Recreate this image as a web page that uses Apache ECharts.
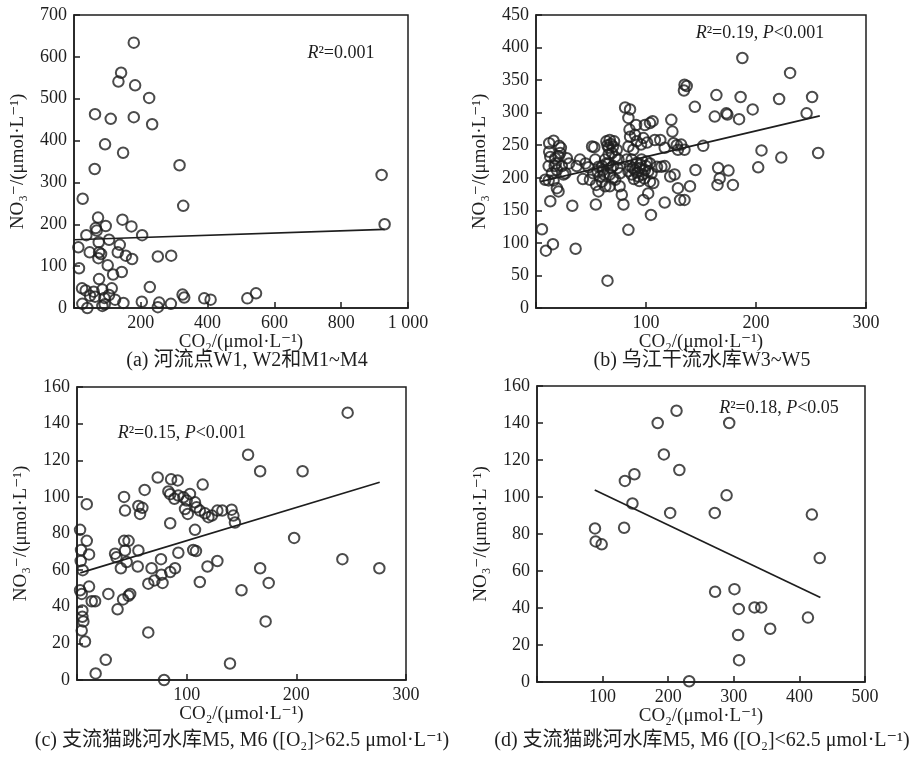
<!DOCTYPE html>
<html><head><meta charset="utf-8">
<script src="https://cdn.jsdelivr.net/npm/echarts@6/dist/echarts.min.js"></script>
<style>html,body{margin:0;padding:0;background:#fff}#c{width:922px;height:760px}</style>
</head><body><div id="c"></div>
<script>
// ---- Panel (a): river sites W1, W2, M1~M4 ----
const aCO2 = [179,141,133,183,225,63,110,179,234,93,147,62,316,327,26,72,65,68,95,145,172,204,37,105,74,13,137,47,75,81,73,131,155,174,251,291,15,101,117,143,75,24,35,59,85,113,63,48,105,91,123,148,203,227,25,40,85,92,251,255,290,325,330,390,409,519,545,921,930];
const aNO3 = [634,562,541,532,502,463,452,456,439,391,371,332,341,244,261,216,191,185,196,211,195,174,174,163,157,145,151,133,133,129,119,133,125,117,123,125,95,102,80,86,69,47,42,39,44,47,27,29,31,24,20,12,15,50,10,0,5,9,2,13,10,32,25,23,20,23,35,318,200];
const aFitX = [0,930];
const aFitY = [163,188];

// ---- Panel (b): Wujiang mainstream reservoirs W3~W5 ----
const bCO2 = [5.4,9,15.4,36,13,33,65,84,12,16,21,22.6,13,17.5,20.5,11.5,17,23.5,28,11.5,16,14.5,19,26.6,19,20.5,8.4,40,37,42.6,51,53,
47.7,53.8,57,52,49,58,54.7,56.8,54.4,63,64,67,71,66,69,73.4,62.8,66,70,75,61,67,72,76,78,79.5,67,60,76.4,
81,85.5,84,85,91,85.5,90,91.5,84,88.5,95.5,99,103.6,106,97.6,101,82.5,87,91.5,96,100.6,103.6,85.5,90,94.6,99,102,87,93,98.5,105,103.6,106.6,102,97.6,104.5,108,113,110,114,117,117,123,124,125,128,132,135,129,122,126,129,131,135,140,117,144.4,145,152,135,137,134.5,164,162.5,173,165.6,167,165,
187.6,231,186,221,251,197,174,184.6,246,205,223,256.5,202,175,179,
65,68,70,66,72,64,68,62,70,74,88,92,95,97,100,89,94,84,60,56,45,30,25,18,22,12];
const bNO3 = [121,88,98,91,164,157,42,120,253,257,249,246,232,230,233,218,218,218,230,196,196,207,212,207,184,179,197,228,218,198,248,247,
216,228,217,207,197,202,189,179,159,187,256,258,256,246,238,243,228,222,218,228,212,205,197,187,174,159,187,194,207,
308,305,292,274,281,263,266,256,248,243,251,281,284,287,261,254,228,228,223,228,225,222,218,212,215,212,210,205,202,199,207,194,192,176,166,143,258,258,217,217,218,246,289,271,253,250,251,243,243,202,205,184,166,166,187,162,309,212,249,343,341,334,327,294,299,215,199,189,
384,361,324,321,324,305,297,290,299,242,231,238,216,211,189,
250,252,248,236,232,222,215,205,200,215,215,208,220,205,218,198,195,210,218,210,222,222,205,222,238,240];
const bFitX = [4,258];
const bFitY = [194,295];

// ---- Panel (c): tributary Maotiao reservoirs M5, M6, [O2]>62.5 ----
const cCO2 = [156,73.6,85.8,91.8,114.6,61.7,42.9,8.9,43.8,56,59.6,57.5,83.3,85,88.8,92.4,97,100,103,98.5,101,107.6,109,112,116.7,119.8,123,128,132.5,141,142.6,144,85,107.6,106,108.5,2.8,8.9,3.7,11,3.4,5.2,34.7,36,43,47,43.8,45.3,40,56,55.4,68,76.6,92.4,128,119,89.4,85,77,78,70.6,65,112,150,2.8,4.3,11,13.4,16.5,28.6,42,47,48.5,37,4.9,4.9,5.8,4.3,7.3,65,26.2,17,79.4,139.5,246.8,167,205.7,198,242,275.7,167,174.8,172];
const cNO3 = [123,110.6,109.6,109,106.7,103.8,100,96,92.5,95,94,90.7,103,101.5,99,100.7,99.8,98,101.6,93.4,90.7,97,94.3,92.5,91,88.9,89.8,92.5,92.5,93,89.8,86,85.6,82,71,70.4,82,76,71,68.6,65,60,69,67,76,76,70.7,64.4,61,70.7,62,61,66,69.5,65,62,61,59,57.5,53,54.4,52.6,53.5,49,49,47,51,43,43,47,44,46,47,38.6,38,34.5,32,27,21,26,11,3.6,0,9,146,114,114,77.6,66,61,61,53,32];
const cFitX = [3,276];
const cFitY = [58.5,108];

// ---- Panel (d): tributary Maotiao reservoirs M5, M6, [O2]<62.5 ----
const dCO2 = [212.7,184,293,193.4,217,148.5,134,289,145.5,203,271,419,88.4,132.8,89.4,98.6,431,271.5,301,307.6,331.6,341.8,413,355.5,306.6,308,232];
const dNO3 = [146.6,140,140,123,114.6,112.3,108.7,100.9,96.5,91.4,91.4,90.5,83,83.4,76,74.4,67,48.8,50.2,39.5,40.3,40.3,34.8,28.8,25.4,11.8,0.4];
const dFitX = [88,432];
const dFitY = [103.8,45.7];

// ---- labels ----
const xName = 'CO₂/(μmol·L⁻¹)';
const yName = 'NO₃⁻/(μmol·L⁻¹)';
const captions = ['(a) 河流点W1, W2和M1~M4','(b) 乌江干流水库W3~W5','(c) 支流猫跳河水库M5, M6 ([O₂]>62.5 μmol·L⁻¹)','(d) 支流猫跳河水库M5, M6 ([O₂]<62.5 μmol·L⁻¹)'];
const stats = [['R','²=0.001',''],['R','²=0.19, ','P','<0.001'],['R','²=0.15, ','P','<0.001'],['R','²=0.18, ','P','<0.05']];

const FONT = "'Liberation Serif','DejaVu Serif','Noto Sans CJK SC',serif";
const INK = '#1e1e1e';
const zip = (xs, ys) => xs.map((x, i) => [x, ys[i]]);

const grids = [
  {left:74, top:15, width:334, height:293},
  {left:536, top:15, width:330, height:293},
  {left:77, top:387, width:329, height:293},
  {left:537, top:386, width:328, height:296}
];
const xCfg = [{max:1000, interval:200},{max:300, interval:100},{max:300, interval:100},{max:500, interval:100}];
const yCfg = [{max:700, interval:100},{max:450, interval:50},{max:160, interval:20},{max:160, interval:20}];

const axisCommon = {
  type:'value', min:0,
  axisLine:{show:true, onZero:false, lineStyle:{color:INK, width:1.5}},
  axisTick:{show:true, inside:true, length:6, lineStyle:{color:INK, width:1.5}},
  splitLine:{show:false},
  nameTextStyle:{fontFamily:FONT, fontSize:19, color:INK}
};

const xAxes = xCfg.map((c, i) => Object.assign({}, axisCommon, {
  gridIndex:i, max:c.max, interval:c.interval,
  name:xName, nameLocation:'middle', nameGap:25,
  axisLabel:{fontFamily:FONT, fontSize:18, color:INK, margin:6,
    formatter: v => v === 0 ? '' : (v >= 1000 ? String(v).replace(/(\d)(\d{3})$/, '$1 $2') : String(v))}
}));
const yAxes = yCfg.map((c, i) => Object.assign({}, axisCommon, {
  gridIndex:i, max:c.max, interval:c.interval,
  name:yName, nameLocation:'middle', nameGap:46,
  axisLabel:{fontFamily:FONT, fontSize:18, color:INK, margin:7}
}));

const scatterData = [zip(aCO2,aNO3), zip(bCO2,bNO3), zip(cCO2,cNO3), zip(dCO2,dNO3)];
const fitData = [zip(aFitX,aFitY), zip(bFitX,bFitY), zip(cFitX,cFitY), zip(dFitX,dFitY)];

const series = [];
scatterData.forEach((d, i) => {
  series.push({type:'scatter', xAxisIndex:i, yAxisIndex:i, data:d, symbol:'circle', symbolSize:10.5,
    itemStyle:{color:'rgba(0,0,0,0)', borderColor:INK, borderWidth:2}, emphasis:{disabled:true}, z:3});
  series.push({type:'line', xAxisIndex:i, yAxisIndex:i, data:fitData[i], showSymbol:false, symbol:'none',
    lineStyle:{color:INK, width:1.7}, emphasis:{disabled:true}, z:2});
});

// annotation placement (pixel positions for text only)
const statPos = [[341,53],[760,33],[182,433],[779,408]];
const capPos = [[247,361],[702,361],[242,741],[702,741]];

const richStyles = {
  i:{fontFamily:FONT, fontSize:18, fontStyle:'italic', fill:INK},
  n:{fontFamily:FONT, fontSize:18, fill:INK}
};
function statText(parts){
  let s = '';
  parts.forEach((p, k) => { if (p) s += (k % 2 === 0 ? '{i|' : '{n|') + p + '}'; });
  return s;
}

const graphic = [];
stats.forEach((p, i) => {
  graphic.push({type:'text', x:statPos[i][0], y:statPos[i][1], z:10,
    style:{text:statText(p), rich:richStyles, align:'center', verticalAlign:'middle', fill:INK, font:"18px "+FONT}});
});
captions.forEach((t, i) => {
  graphic.push({type:'text', x:capPos[i][0], y:capPos[i][1], z:10,
    style:{text:t, align:'center', verticalAlign:'middle', fill:INK, font:"20px "+FONT}});
});

const chart = echarts.init(document.getElementById('c'), null, {renderer:'canvas'});
chart.setOption({
  animation:false,
  backgroundColor:'#ffffff',
  grid: grids.map(g => Object.assign({show:true, borderColor:INK, borderWidth:1.5, backgroundColor:'rgba(0,0,0,0)', containLabel:false}, g)),
  xAxis: xAxes,
  yAxis: yAxes,
  series: series,
  graphic: graphic
});
</script></body></html>
